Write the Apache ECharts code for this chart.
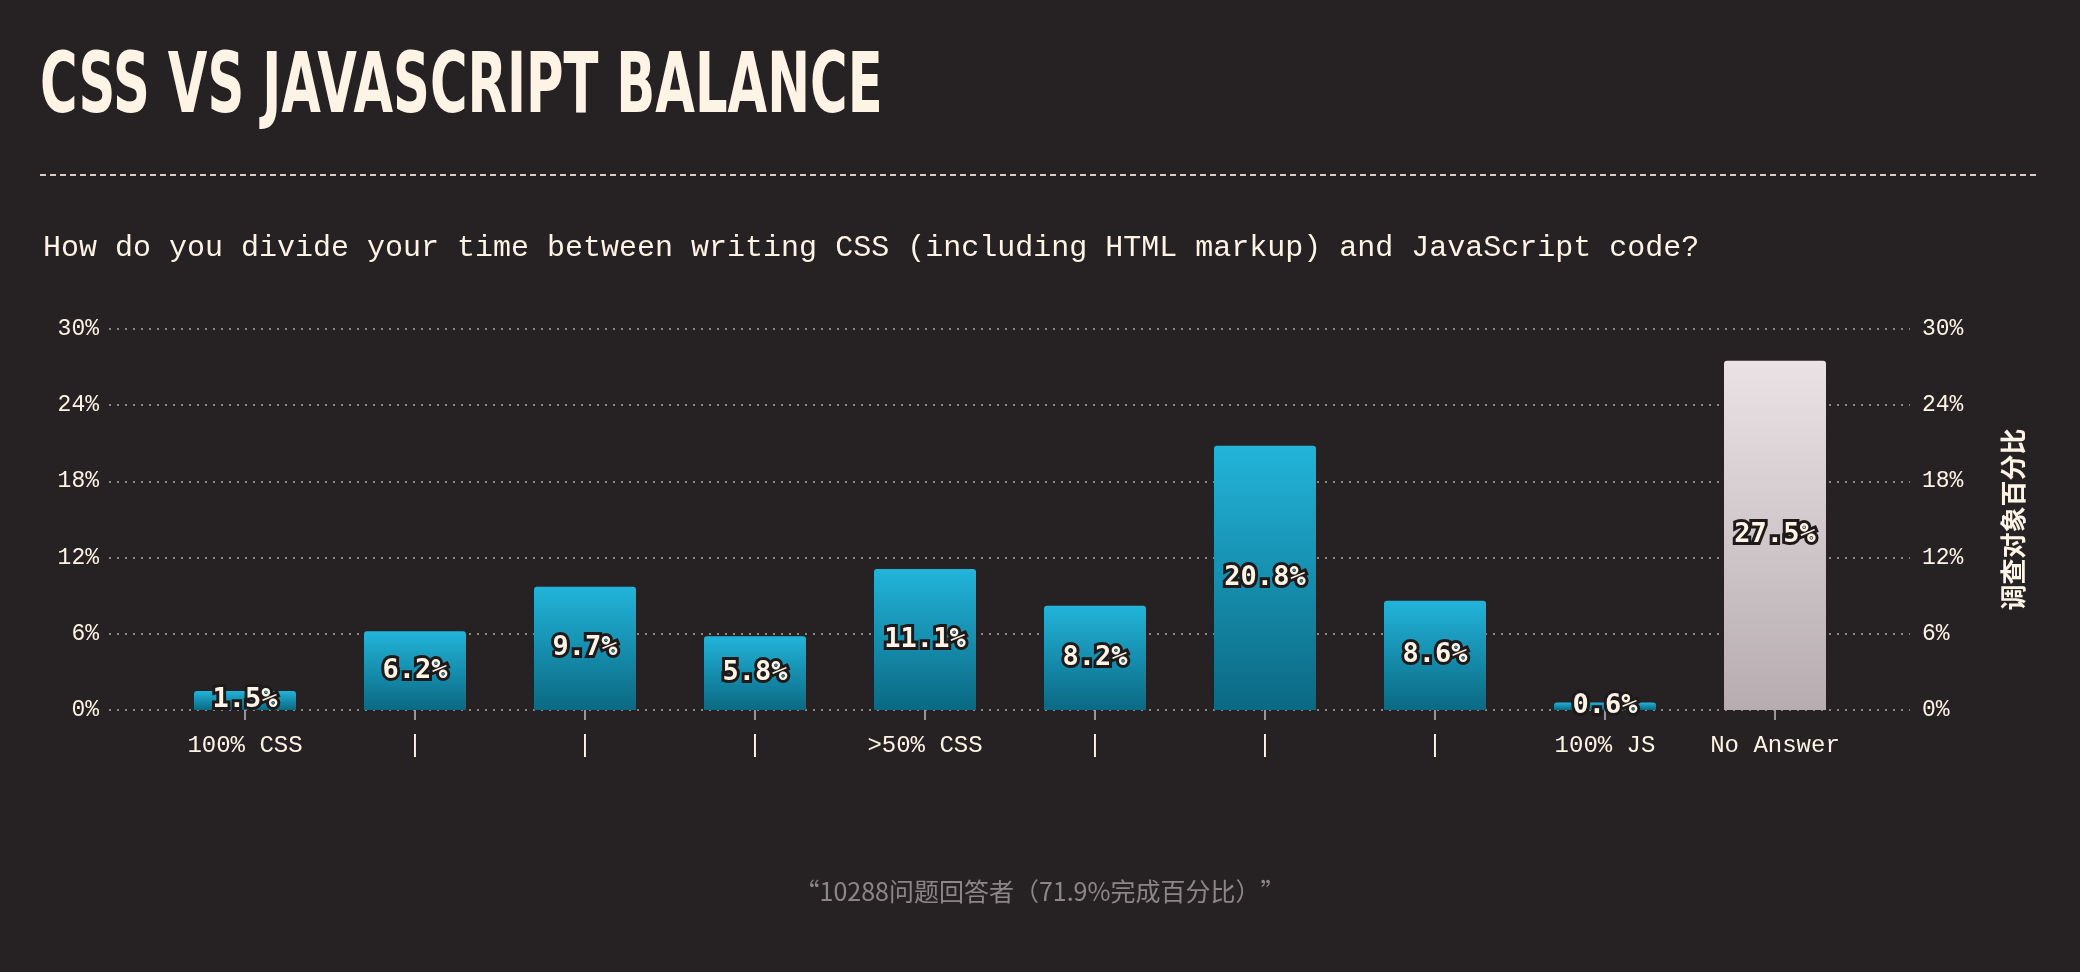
<!DOCTYPE html>
<html>
<head>
<meta charset="utf-8">
<script src="https://cdn.jsdelivr.net/npm/echarts@6/dist/echarts.min.js"></script>
<style>
  html, body { margin: 0; padding: 0; background: #262223; }
  #chart { width: 2080px; height: 972px; }
</style>
</head>
<body>
<div id="chart"></div>
<script>
// data
const categories = ['100% CSS', '|', '|', '|', '>50% CSS', '|', '|', '|', '100% JS', 'No Answer']
const values = [1.5, 6.2, 9.7, 5.8, 11.1, 8.2, 20.8, 8.6, 0.6, 27.5]
const yMax = 30
const yStep = 6

const cream = '#fdf4e6'
const mono = '"Liberation Mono", "DejaVu Sans Mono", monospace'

const blue = new echarts.graphic.LinearGradient(0, 0, 0, 1, [
    { offset: 0, color: '#22b4da' },
    { offset: 1, color: '#0b6983' }
])
const grey = new echarts.graphic.LinearGradient(0, 0, 0, 1, [
    { offset: 0, color: '#ebe2e5' },
    { offset: 1, color: '#b7adb1' }
])

const chart = echarts.init(document.getElementById('chart'))
chart.setOption({
    backgroundColor: '#262223',
    title: [{
        text: 'How do you divide your time between writing CSS (including HTML markup) and JavaScript code?',
        left: 38, top: 228,
        textStyle: { color: cream, fontSize: 30, fontWeight: 'normal', fontFamily: mono }
    }, {
        text: '“10288问题回答者（71.9%完成百分比）”',
        left: 'center', top: 874,
        textStyle: { color: '#8d8689', fontSize: 25, fontWeight: 'normal', fontFamily: '"Noto Sans CJK SC", sans-serif' }
    }],
    graphic: [{
        // condensed title: squeeze a bold face horizontally
        type: 'text',
        x: 40, y: 48, scaleX: 0.64, scaleY: 1.05,
        style: {
            text: 'CSS VS JAVASCRIPT BALANCE',
            fill: cream, fontSize: 80, fontWeight: 'bold',
            fontFamily: '"DejaVu Sans", sans-serif'
        }
    }, {
        type: 'line',
        shape: { x1: 40, y1: 175, x2: 2040, y2: 175 },
        style: { stroke: '#d8d0c8', lineWidth: 2, lineDash: [6, 4] }
    }],
    grid: [
        { left: 109, right: 170, top: 329, bottom: 262 },
        { left: 160, right: 220, top: 329, bottom: 262 }
    ],
    xAxis: [{
        gridIndex: 0, type: 'value', show: false, min: 0, max: 1
    }, {
        gridIndex: 1, type: 'category', data: categories,
        axisLine: { show: false },
        axisTick: { show: true, alignWithLabel: true, length: 10, lineStyle: { color: '#9a9496', width: 2 } },
        axisLabel: { color: cream, fontSize: 24, fontFamily: mono, margin: 24 }
    }],
    yAxis: [{
        gridIndex: 0, type: 'value', min: 0, max: yMax, interval: yStep,
        axisLabel: { color: cream, fontSize: 23, fontFamily: mono, formatter: '{value}%', margin: 10 },
        axisLine: { show: false }, axisTick: { show: false },
        splitLine: { lineStyle: { color: '#8a8486', type: [2, 6], width: 2 } }
    }, {
        gridIndex: 0, type: 'value', position: 'right', min: 0, max: yMax, interval: yStep,
        name: '调查对象百分比', nameLocation: 'middle', nameRotate: 90, nameGap: 90,
        nameTextStyle: { color: cream, fontSize: 26, fontWeight: 'bold', fontFamily: '"Noto Sans CJK SC", sans-serif' },
        axisLabel: { color: cream, fontSize: 23, fontFamily: mono, formatter: '{value}%', margin: 12 },
        axisLine: { show: false }, axisTick: { show: false }, splitLine: { show: false }
    }, {
        gridIndex: 1, type: 'value', min: 0, max: yMax, show: false
    }],
    series: [{
        type: 'bar',
        xAxisIndex: 1, yAxisIndex: 2,
        barWidth: 102,
        data: values.map((v, i) => ({
            value: v,
            itemStyle: { color: i === values.length - 1 ? grey : blue, borderRadius: [3, 3, 0, 0] }
        })),
        label: {
            show: true, position: 'inside',
            formatter: '{c}%',
            color: cream, fontSize: 27, fontWeight: 'bold', fontFamily: '"DejaVu Sans Mono", monospace',
            textBorderColor: '#1e1a1b', textBorderWidth: 6
        }
    }]
})
</script>
</body>
</html>
